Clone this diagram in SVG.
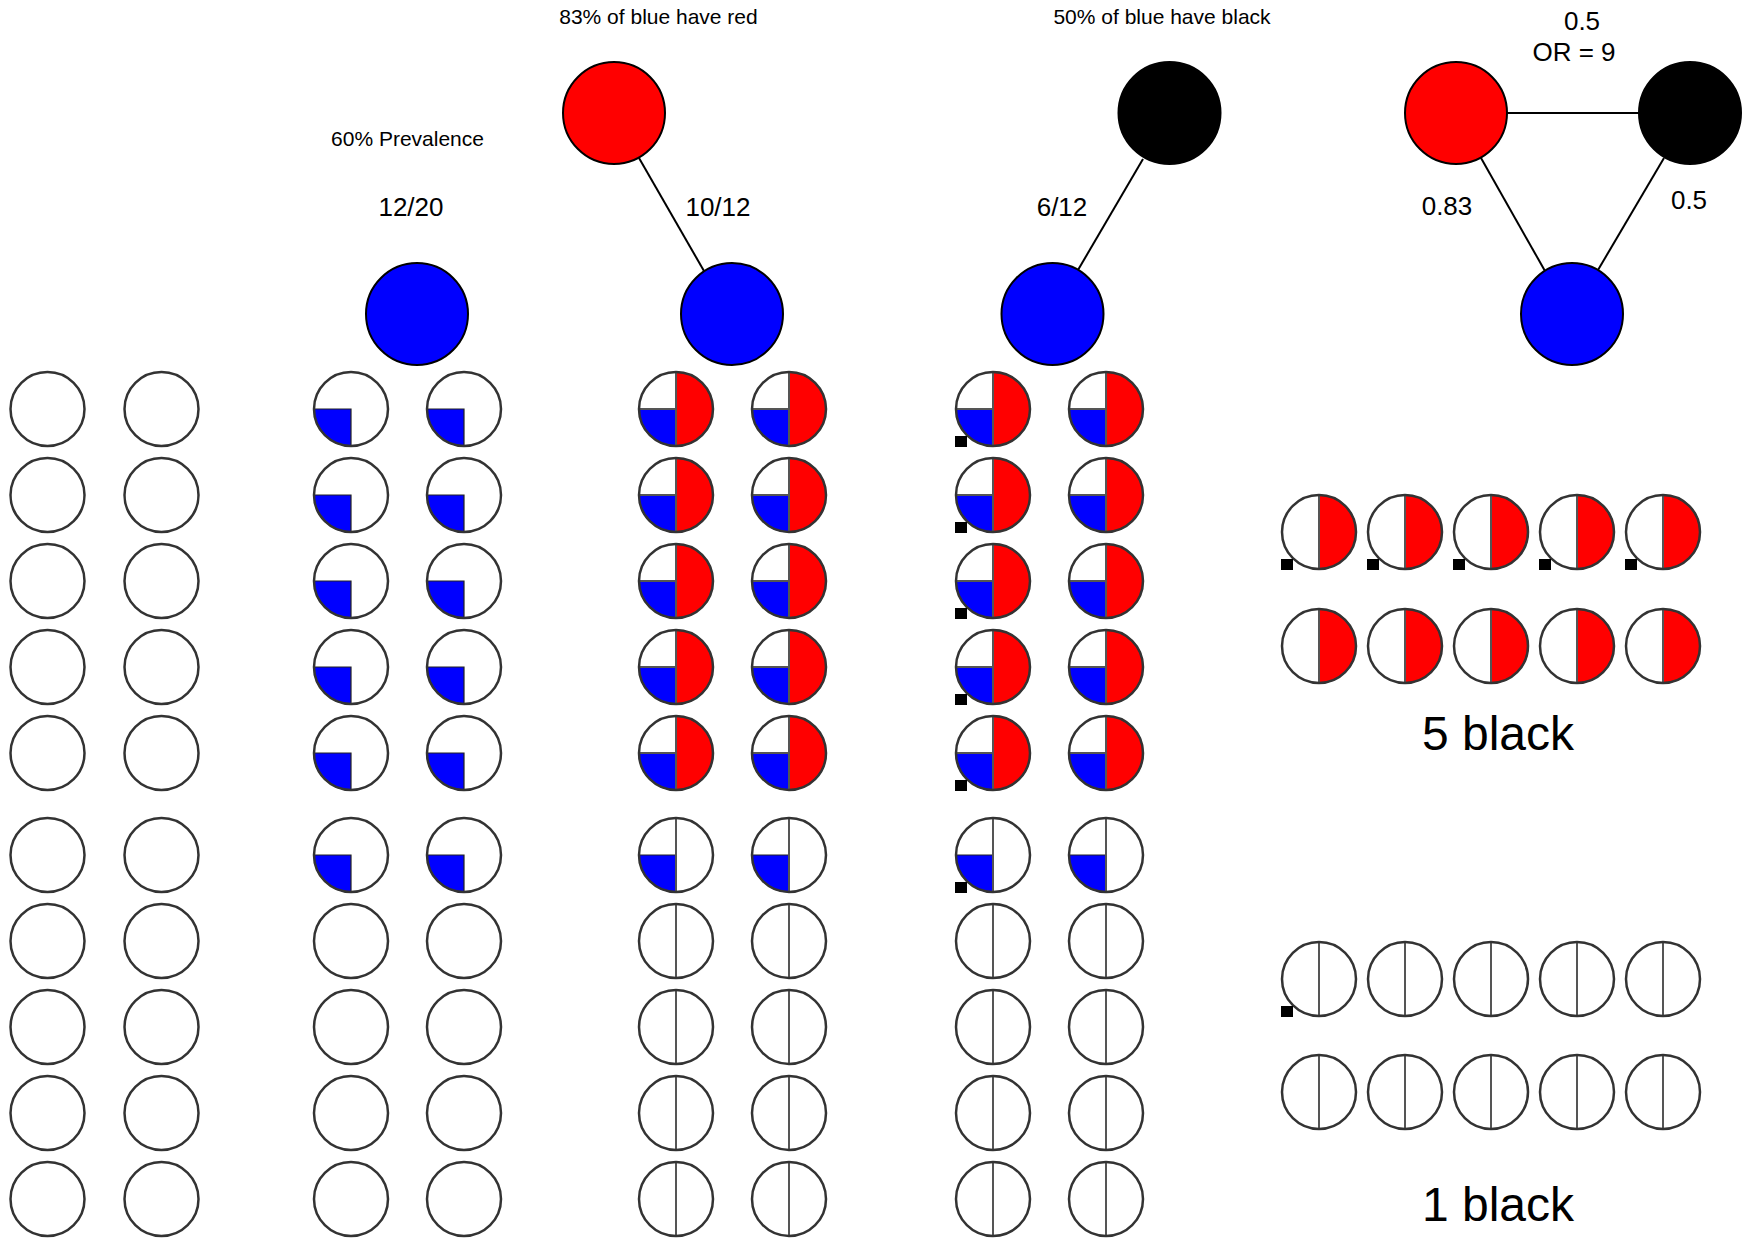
<svg xmlns="http://www.w3.org/2000/svg" xmlns:xlink="http://www.w3.org/1999/xlink" width="1753" height="1239" viewBox="0 0 1753 1239">
<style>
.t{font-family:"Liberation Sans",Arial,sans-serif;fill:#000;text-anchor:middle}
.s21{font-size:21px}.s26{font-size:26px}.s48{font-size:48px}
.big{stroke:#000;stroke-width:2}
.edge{stroke:#000;stroke-width:2;fill:none}
.ring{fill:none;stroke:#333;stroke-width:2.5}
.div{stroke:#555;stroke-width:2}
.blue{fill:#0000ff;stroke:#222;stroke-width:1.2}
.red{fill:#ff0000;stroke:#222;stroke-width:1.2}
</style>
<defs>
<g id="plain"><circle r="37" fill="#fff"/><circle r="37" class="ring"/></g>
<g id="q"><circle r="37" fill="#fff"/><path class="blue" d="M0,0 L-37,0 A37,37 0 0 0 0,37 Z"/><circle r="37" class="ring"/></g>
<g id="rq"><circle r="37" fill="#fff"/><path class="red" d="M0,-37 A37,37 0 0 1 0,37 Z"/><path class="blue" d="M0,0 L-37,0 A37,37 0 0 0 0,37 Z"/><line class="div" x1="0" y1="-37" x2="0" y2="37"/><line class="div" x1="-37" y1="0" x2="0" y2="0"/><circle r="37" class="ring"/></g>
<g id="lq"><circle r="37" fill="#fff"/><path class="blue" d="M0,0 L-37,0 A37,37 0 0 0 0,37 Z"/><line class="div" x1="0" y1="-37" x2="0" y2="37"/><circle r="37" class="ring"/></g>
<g id="ln"><circle r="37" fill="#fff"/><line class="div" x1="0" y1="-37" x2="0" y2="37"/><circle r="37" class="ring"/></g>
<g id="hr"><circle r="37" fill="#fff"/><path class="red" d="M0,-37 A37,37 0 0 1 0,37 Z"/><line class="div" x1="0" y1="-37" x2="0" y2="37"/><circle r="37" class="ring"/></g>
<rect id="sq" x="-38" y="27" width="12" height="11" fill="#000"/>
</defs>
<rect width="1753" height="1239" fill="#fff"/>

<g id="connectors">
<line class="edge" x1="639" y1="158" x2="704" y2="271"/>
<line class="edge" x1="1143" y1="159" x2="1078" y2="270"/>
<line class="edge" x1="1507" y1="113" x2="1639" y2="113"/>
<line class="edge" x1="1481" y1="158" x2="1545" y2="271"/>
<line class="edge" x1="1664" y1="158" x2="1598" y2="270"/>
</g>

<g id="labels">
<text class="t s21" x="658.5" y="24">83% of blue have red</text>
<text class="t s21" x="1162" y="24">50% of blue have black</text>
<text class="t s21" x="407.5" y="146">60% Prevalence</text>
<text class="t s26" x="411" y="216">12/20</text>
<text class="t s26" x="718" y="216">10/12</text>
<text class="t s26" x="1062" y="216">6/12</text>
<text class="t s26" x="1582" y="29.5">0.5</text>
<text class="t s26" x="1574" y="61">OR = 9</text>
<text class="t s26" x="1447" y="215">0.83</text>
<text class="t s26" x="1689" y="208.5">0.5</text>
<text class="t s48" x="1498" y="750">5 black</text>
<text class="t s48" x="1498" y="1221">1 black</text>
</g>

<g id="node-blue-1"><circle class="big" cx="417" cy="314" r="51" fill="#0000ff"/></g>
<g id="node-red-1"><circle class="big" cx="614" cy="113" r="51" fill="#ff0000"/></g>
<g id="node-blue-2"><circle class="big" cx="732" cy="314" r="51" fill="#0000ff"/></g>
<g id="node-black-1"><circle class="big" cx="1169.5" cy="113" r="51" fill="#000"/></g>
<g id="node-blue-3"><circle class="big" cx="1052.5" cy="314" r="51" fill="#0000ff"/></g>
<g id="node-red-2"><circle class="big" cx="1456" cy="113" r="51" fill="#ff0000"/></g>
<g id="node-black-2"><circle class="big" cx="1690" cy="113" r="51" fill="#000"/></g>
<g id="node-blue-4"><circle class="big" cx="1572" cy="314" r="51" fill="#0000ff"/></g>

<g id="col-a">
<use href="#plain" x="47.5" y="409"/><use href="#plain" x="161.5" y="409"/>
<use href="#plain" x="47.5" y="495"/><use href="#plain" x="161.5" y="495"/>
<use href="#plain" x="47.5" y="581"/><use href="#plain" x="161.5" y="581"/>
<use href="#plain" x="47.5" y="667"/><use href="#plain" x="161.5" y="667"/>
<use href="#plain" x="47.5" y="753"/><use href="#plain" x="161.5" y="753"/>
<use href="#plain" x="47.5" y="855"/><use href="#plain" x="161.5" y="855"/>
<use href="#plain" x="47.5" y="941"/><use href="#plain" x="161.5" y="941"/>
<use href="#plain" x="47.5" y="1027"/><use href="#plain" x="161.5" y="1027"/>
<use href="#plain" x="47.5" y="1113"/><use href="#plain" x="161.5" y="1113"/>
<use href="#plain" x="47.5" y="1199"/><use href="#plain" x="161.5" y="1199"/>
</g>

<g id="col-b">
<use href="#q" x="351" y="409"/><use href="#q" x="464" y="409"/>
<use href="#q" x="351" y="495"/><use href="#q" x="464" y="495"/>
<use href="#q" x="351" y="581"/><use href="#q" x="464" y="581"/>
<use href="#q" x="351" y="667"/><use href="#q" x="464" y="667"/>
<use href="#q" x="351" y="753"/><use href="#q" x="464" y="753"/>
<use href="#q" x="351" y="855"/><use href="#q" x="464" y="855"/>
<use href="#plain" x="351" y="941"/><use href="#plain" x="464" y="941"/>
<use href="#plain" x="351" y="1027"/><use href="#plain" x="464" y="1027"/>
<use href="#plain" x="351" y="1113"/><use href="#plain" x="464" y="1113"/>
<use href="#plain" x="351" y="1199"/><use href="#plain" x="464" y="1199"/>
</g>

<g id="col-c">
<use href="#rq" x="676" y="409"/><use href="#rq" x="789" y="409"/>
<use href="#rq" x="676" y="495"/><use href="#rq" x="789" y="495"/>
<use href="#rq" x="676" y="581"/><use href="#rq" x="789" y="581"/>
<use href="#rq" x="676" y="667"/><use href="#rq" x="789" y="667"/>
<use href="#rq" x="676" y="753"/><use href="#rq" x="789" y="753"/>
<use href="#lq" x="676" y="855"/><use href="#lq" x="789" y="855"/>
<use href="#ln" x="676" y="941"/><use href="#ln" x="789" y="941"/>
<use href="#ln" x="676" y="1027"/><use href="#ln" x="789" y="1027"/>
<use href="#ln" x="676" y="1113"/><use href="#ln" x="789" y="1113"/>
<use href="#ln" x="676" y="1199"/><use href="#ln" x="789" y="1199"/>
</g>

<g id="col-d">
<use href="#rq" x="993" y="409"/><use href="#rq" x="1106" y="409"/>
<use href="#rq" x="993" y="495"/><use href="#rq" x="1106" y="495"/>
<use href="#rq" x="993" y="581"/><use href="#rq" x="1106" y="581"/>
<use href="#rq" x="993" y="667"/><use href="#rq" x="1106" y="667"/>
<use href="#rq" x="993" y="753"/><use href="#rq" x="1106" y="753"/>
<use href="#lq" x="993" y="855"/><use href="#lq" x="1106" y="855"/>
<use href="#ln" x="993" y="941"/><use href="#ln" x="1106" y="941"/>
<use href="#ln" x="993" y="1027"/><use href="#ln" x="1106" y="1027"/>
<use href="#ln" x="993" y="1113"/><use href="#ln" x="1106" y="1113"/>
<use href="#ln" x="993" y="1199"/><use href="#ln" x="1106" y="1199"/>
<use href="#sq" x="993" y="409"/><use href="#sq" x="993" y="495"/><use href="#sq" x="993" y="581"/>
<use href="#sq" x="993" y="667"/><use href="#sq" x="993" y="753"/><use href="#sq" x="993" y="855"/>
</g>

<g id="red-panel">
<use href="#hr" x="1319" y="532"/><use href="#hr" x="1405" y="532"/><use href="#hr" x="1491" y="532"/><use href="#hr" x="1577" y="532"/><use href="#hr" x="1663" y="532"/>
<use href="#hr" x="1319" y="646"/><use href="#hr" x="1405" y="646"/><use href="#hr" x="1491" y="646"/><use href="#hr" x="1577" y="646"/><use href="#hr" x="1663" y="646"/>
<use href="#sq" x="1319" y="532"/><use href="#sq" x="1405" y="532"/><use href="#sq" x="1491" y="532"/><use href="#sq" x="1577" y="532"/><use href="#sq" x="1663" y="532"/>
</g>

<g id="no-red-panel">
<use href="#ln" x="1319" y="979"/><use href="#ln" x="1405" y="979"/><use href="#ln" x="1491" y="979"/><use href="#ln" x="1577" y="979"/><use href="#ln" x="1663" y="979"/>
<use href="#ln" x="1319" y="1092"/><use href="#ln" x="1405" y="1092"/><use href="#ln" x="1491" y="1092"/><use href="#ln" x="1577" y="1092"/><use href="#ln" x="1663" y="1092"/>
<use href="#sq" x="1319" y="979"/>
</g>
</svg>
